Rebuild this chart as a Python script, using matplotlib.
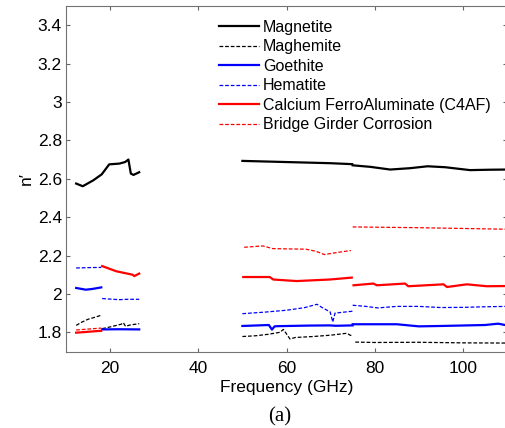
import matplotlib
matplotlib.use('Agg')
import matplotlib.pyplot as plt

plt.rcParams['font.family'] = ['Liberation Sans', 'DejaVu Sans']

# Magnetite (continuous over 12-26.5 GHz)
mag_f1 = [12.3, 13.8, 16.2, 18.1, 19.8, 22.1, 23.4, 24.15, 24.7, 25.3, 26.6]
mag_v1 = [2.575, 2.561, 2.592, 2.623, 2.675, 2.679, 2.687, 2.700, 2.627, 2.620, 2.634]
mag_f2 = [50, 55, 60, 65, 70, 74.9]
mag_v2 = [2.693, 2.690, 2.687, 2.684, 2.681, 2.676]
mag_f3 = [75, 79, 83.5, 88, 92, 96, 101.6, 106, 110]
mag_v3 = [2.670, 2.662, 2.648, 2.655, 2.665, 2.660, 2.645, 2.647, 2.648]

# Maghemite
mgh_f1 = [12.3, 13.5, 15, 16.5, 18]
mgh_v1 = [1.836, 1.852, 1.868, 1.878, 1.889]
mgh_f2 = [18.2, 20, 22.5, 23.0, 23.5, 24.5, 26.6]
mgh_v2 = [1.819, 1.828, 1.842, 1.850, 1.831, 1.838, 1.845]
mgh_f3 = [50, 53, 56, 58.5, 59.3, 60.8, 62, 66, 70, 73.7, 74.5, 75]
mgh_v3 = [1.778, 1.782, 1.790, 1.800, 1.815, 1.765, 1.773, 1.778, 1.785, 1.795, 1.784, 1.784]
mgh_f4 = [75.6, 80, 90, 100, 110]
mgh_v4 = [1.749, 1.747, 1.748, 1.745, 1.744]

# Goethite
goe_f1 = [12.3, 14.5, 16, 18]
goe_v1 = [2.031, 2.022, 2.026, 2.034]
goe_f2 = [18.2, 22, 26.6]
goe_v2 = [1.815, 1.816, 1.815]
goe_f3 = [50, 56, 56.7, 57.3, 58, 65, 69.7, 71.2, 75]
goe_v3 = [1.833, 1.838, 1.814, 1.831, 1.832, 1.835, 1.836, 1.834, 1.836]
goe_f4 = [75, 85, 90, 95, 105, 108, 110]
goe_v4 = [1.842, 1.842, 1.831, 1.833, 1.838, 1.845, 1.836]

# Hematite
hem_f1 = [12.3, 15, 18]
hem_v1 = [2.135, 2.137, 2.138]
hem_f2 = [18.2, 20, 22, 24, 26.6]
hem_v2 = [1.976, 1.973, 1.970, 1.972, 1.972]
hem_f3 = [50, 55, 60, 64, 66.9, 68, 69.9, 70.5, 71, 75]
hem_v3 = [1.897, 1.905, 1.915, 1.928, 1.946, 1.930, 1.906, 1.854, 1.900, 1.910]
hem_f4 = [75, 78, 80.7, 85, 90, 95, 100, 105, 110]
hem_v4 = [1.941, 1.935, 1.927, 1.935, 1.935, 1.929, 1.930, 1.933, 1.935]

# Calcium FerroAluminate (C4AF)
c4_f1 = [12.3, 18]
c4_v1 = [1.798, 1.808]
c4_f2 = [18.2, 21.4, 25.1, 25.5, 26.6]
c4_v2 = [2.145, 2.118, 2.100, 2.093, 2.106]
c4_f3 = [50.2, 56.2, 57, 62.3, 69.8, 74.8]
c4_v3 = [2.088, 2.088, 2.075, 2.067, 2.075, 2.085]
c4_f4 = [75.2, 79.7, 80.5, 86.9, 87.6, 95.6, 96.4, 100.9, 105.4, 110]
c4_v4 = [2.045, 2.054, 2.045, 2.054, 2.040, 2.050, 2.036, 2.050, 2.040, 2.041]

# Bridge Girder Corrosion
bg_f1 = [12.3, 18]
bg_v1 = [1.812, 1.822]
bg_f2 = [50.4, 54.6, 56.9, 64.4, 66.7, 68.6, 71.2, 74.6]
bg_v2 = [2.243, 2.250, 2.236, 2.233, 2.222, 2.205, 2.215, 2.226]
bg_f3 = [75, 90, 110]
bg_v3 = [2.349, 2.345, 2.337]

fig = plt.figure(figsize=(5.05, 4.28), dpi=100)
ax = fig.add_axes([66/505, (428-351.5)/428, (507-66)/505, (351.5-6)/428])

solid = dict(linewidth=1.6)
dash = dict(linewidth=0.9, linestyle=(0, (3, 1.5)))

series = [
    ('Magnetite', 'k', solid, [(mag_f1, mag_v1), (mag_f2, mag_v2), (mag_f3, mag_v3)]),
    ('Maghemite', 'k', dash, [(mgh_f1, mgh_v1), (mgh_f2, mgh_v2), (mgh_f3, mgh_v3), (mgh_f4, mgh_v4)]),
    ('Goethite', 'b', solid, [(goe_f1, goe_v1), (goe_f2, goe_v2), (goe_f3, goe_v3), (goe_f4, goe_v4)]),
    ('Hematite', 'b', dash, [(hem_f1, hem_v1), (hem_f2, hem_v2), (hem_f3, hem_v3), (hem_f4, hem_v4)]),
    ('Calcium FerroAluminate (C4AF)', 'r', solid, [(c4_f1, c4_v1), (c4_f2, c4_v2), (c4_f3, c4_v3), (c4_f4, c4_v4)]),
    ('Bridge Girder Corrosion', 'r', dash, [(bg_f1, bg_v1), (bg_f2, bg_v2), (bg_f3, bg_v3)]),
]

handles = []
for name, col, sty, segs in series:
    for i, (f, v) in enumerate(segs):
        ln, = ax.plot(f, v, color=col, **sty)
        if i == 0:
            handles.append(ln)

ax.set_xlim(10, 110)
ax.set_ylim(1.7, 3.5)
ax.set_xticks([20, 40, 60, 80, 100])
ax.set_yticks([1.8, 2, 2.2, 2.4, 2.6, 2.8, 3, 3.2, 3.4])
ax.set_yticklabels(['1.8', '2', '2.2', '2.4', '2.6', '2.8', '3', '3.2', '3.4'])
ax.tick_params(direction='in', top=True, right=True, labelsize=12.5, length=3, color='0.4')
ax.tick_params(axis='x', pad=7)
ax.tick_params(axis='y', pad=3)
for sp in ax.spines.values():
    sp.set_color('0.45')

ax.set_xlabel('Frequency (GHz)', fontsize=12.5, labelpad=3)
ax.set_ylabel('n\u2032', fontsize=12.5, labelpad=3)

fig.legend(handles, [s[0] for s in series], loc='upper left',
           bbox_to_anchor=(211/505, 1 - 12/428), frameon=False, fontsize=11.5,
           handlelength=2.5, handletextpad=0.25, labelspacing=0.28, borderpad=0)

fig.text(0.553, 1 - 417/428, '(a)', ha='center', va='center',
         fontsize=15, family='Liberation Serif')

fig.savefig('out.png', dpi=100)
